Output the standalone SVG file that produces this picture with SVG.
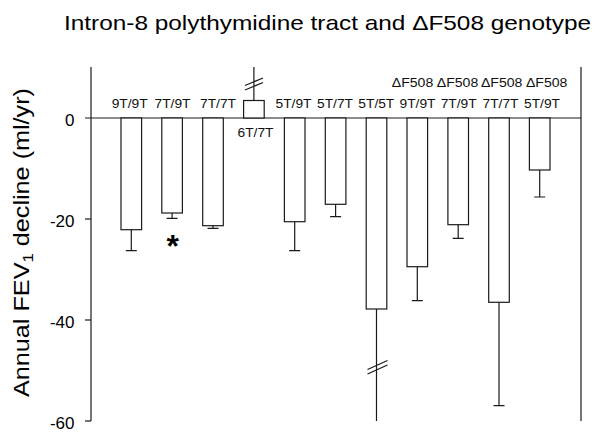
<svg xmlns="http://www.w3.org/2000/svg" width="604" height="432" viewBox="0 0 604 432">
<style>
text{font-family:"Liberation Sans",Arial,Helvetica,sans-serif;fill:#000}
.ln{stroke:#1a1a1a;stroke-width:1.2;fill:none}
.bar{fill:#fff;stroke:#1a1a1a;stroke-width:1.2}
.tick{font-size:17px;text-anchor:end}
.lab{font-size:12.5px;text-anchor:middle;fill:#111}
</style>
<rect width="604" height="432" fill="#fff"/>
<text id="title" x="64" y="29.5" font-size="21" textLength="527" lengthAdjust="spacingAndGlyphs" fill="#111">Intron-8 polythymidine tract and ΔF508 genotype</text>
<g id="axes">
<line class="ln" x1="91" y1="67" x2="91" y2="421"/>
<line class="ln" x1="581" y1="67" x2="581" y2="421"/>
<line class="ln" x1="85" y1="118" x2="581" y2="118"/>
<line class="ln" x1="85" y1="219" x2="91" y2="219"/>
<line class="ln" x1="85" y1="320" x2="91" y2="320"/>
<line class="ln" x1="85" y1="421" x2="91" y2="421"/>
<text class="tick" x="74.5" y="125.5">0</text>
<text class="tick" x="74.5" y="226.5">-20</text>
<text class="tick" x="74.5" y="327.5">-40</text>
<text class="tick" x="74.5" y="428.5">-60</text>
<text id="ytitle" transform="translate(28.5,397) rotate(-90)" x="0" y="0" font-size="22.5" textLength="309" lengthAdjust="spacingAndGlyphs" fill="#111">Annual FEV<tspan font-size="15" baseline-shift="-4">1</tspan> decline (ml/yr)</text>
</g>
<g id="bars">
<g id="b1"><rect class="bar" x="121" y="118" width="20.6" height="111.7"/><path class="ln" d="M131.3 229.7V250.7M125.8 250.7H136.8"/></g>
<g id="b2"><rect class="bar" x="161.8" y="118" width="20.6" height="95"/><path class="ln" d="M172.1 213V218.3M166.6 218.3H177.6"/></g>
<g id="b3"><rect class="bar" x="202.7" y="118" width="20.6" height="107.7"/><path class="ln" d="M213 225.7V228.3M207.5 228.3H218.5"/></g>
<g id="b4"><rect class="bar" x="243.6" y="100.5" width="20.6" height="17.5"/><path class="ln" d="M253.9 100.5V67M245 85.5L263 78M245 90L263 82.5"/></g>
<g id="b5"><rect class="bar" x="284.4" y="118" width="20.6" height="103.7"/><path class="ln" d="M294.7 221.7V250.7M289.2 250.7H300.2"/></g>
<g id="b6"><rect class="bar" x="325.3" y="118" width="20.6" height="86.3"/><path class="ln" d="M335.6 204.3V216.7M330.1 216.7H341.1"/></g>
<g id="b7"><rect class="bar" x="366.2" y="118" width="20.6" height="191"/><path class="ln" d="M376.5 309V421M367.5 369.5L387.5 360.5M367.5 374L387.5 365"/></g>
<g id="b8"><rect class="bar" x="407" y="118" width="20.6" height="148.7"/><path class="ln" d="M417.3 266.7V300.7M411.8 300.7H422.8"/></g>
<g id="b9"><rect class="bar" x="447.9" y="118" width="20.6" height="106.7"/><path class="ln" d="M458.2 224.7V238.3M452.7 238.3H463.7"/></g>
<g id="b10"><rect class="bar" x="488.7" y="118" width="20.6" height="184.3"/><path class="ln" d="M499 302.3V405.7M493.5 405.7H504.5"/></g>
<g id="b11"><rect class="bar" x="529.4" y="118" width="20.6" height="52"/><path class="ln" d="M539.7 170V197M534.2 197H545.2"/></g>
</g>
<g id="labels">
<text class="lab" x="129.7" y="107.5" textLength="36" lengthAdjust="spacingAndGlyphs">9T/9T</text>
<text class="lab" x="172.5" y="107.5" textLength="36" lengthAdjust="spacingAndGlyphs">7T/9T</text>
<text class="lab" x="218" y="107.5" textLength="36" lengthAdjust="spacingAndGlyphs">7T/7T</text>
<text class="lab" x="255.5" y="136.7" textLength="36" lengthAdjust="spacingAndGlyphs">6T/7T</text>
<text class="lab" x="293.5" y="107.5" textLength="36" lengthAdjust="spacingAndGlyphs">5T/9T</text>
<text class="lab" x="335" y="107.5" textLength="36" lengthAdjust="spacingAndGlyphs">5T/7T</text>
<text class="lab" x="376.3" y="107.5" textLength="36" lengthAdjust="spacingAndGlyphs">5T/5T</text>
<text class="lab" x="417.5" y="107.5" textLength="36" lengthAdjust="spacingAndGlyphs">9T/9T</text>
<text class="lab" x="458.7" y="107.5" textLength="36" lengthAdjust="spacingAndGlyphs">7T/9T</text>
<text class="lab" x="500.5" y="107.5" textLength="36" lengthAdjust="spacingAndGlyphs">7T/7T</text>
<text class="lab" x="542" y="107.5" textLength="36" lengthAdjust="spacingAndGlyphs">5T/9T</text>
<text class="lab" x="412.5" y="87.3" textLength="41.5" lengthAdjust="spacingAndGlyphs">ΔF508</text>
<text class="lab" x="457.5" y="87.3" textLength="41.5" lengthAdjust="spacingAndGlyphs">ΔF508</text>
<text class="lab" x="501.7" y="87.3" textLength="41.5" lengthAdjust="spacingAndGlyphs">ΔF508</text>
<text class="lab" x="546.7" y="87.3" textLength="41.5" lengthAdjust="spacingAndGlyphs">ΔF508</text>
<text id="asterisk" x="172.8" y="256.5" font-size="32" font-weight="bold" text-anchor="middle">*</text>
</g>
</svg>
